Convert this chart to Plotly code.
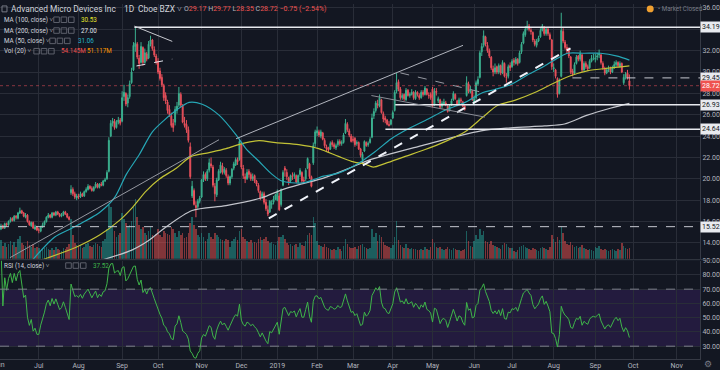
import numpy as np
import pandas as pd
import plotly.graph_objects as go

# ---------------- data (AMD daily, Jun 2018 - Sep 27 2019) ----------------
opens = [
 15.0,15.3,15.6,15.4,15.8,15.7,16.0,16.3,16.1,16.5,16.3,16.8,17.0,16.8,16.4,16.6,16.0,15.6,15.9,15.3,15.5,
 15.2,15.1,15.5,15.7,16.0,16.4,16.6,16.4,16.8,16.6,16.9,16.7,16.5,16.6,16.9,16.7,16.4,18.7,19.0,18.6,18.2,
 18.4,18.3,18.6,18.4,18.8,19.0,19.3,19.1,18.9,19.2,19.5,19.2,19.5,19.4,19.8,20.0,20.7,24.0,25.2,25.4,24.8,25.3,25.5,
 25.4,27.7,28.0,27.1,27.7,29.0,30.2,32.4,32.6,31.3,30.9,32.3,30.9,31.7,31.3,32.6,33.0,32.1,31.5,
 31.0,30.1,29.5,28.7,27.8,27.2,26.5,25.9,25.2,25.3,26.4,26.9,27.9,26.8,25.2,25.1,24.6,23.0,18.4,18.9,17.5,17.4,17.9,
 18.3,19.9,20.4,20.0,20.8,21.4,21.1,19.3,18.5,19.9,20.6,21.2,20.6,20.8,20.2,19.6,20.2,21.0,21.3,21.8,21.8,
 23.2,21.0,20.2,20.0,20.7,20.4,20.0,20.3,19.8,19.4,18.8,18.3,18.6,17.8,17.1,16.9,17.6,17.8,18.1,
 18.0,18.4,17.6,19.4,21.0,20.6,20.1,19.8,20.3,20.3,20.3,19.7,20.4,20.6,19.9,20.0,21.0,21.4,20.2,21.5,23.3,
 24.3,24.4,24.0,24.3,23.6,23.0,22.9,22.8,23.4,23.2,22.9,23.2,23.5,23.3,23.4,24.3,25.1,24.5,24.0,
 23.7,23.8,23.3,23.4,22.8,21.8,22.6,23.4,23.2,23.4,23.9,25.9,26.4,27.0,26.8,27.4,26.1,25.7,25.5,25.1,25.1,
 25.7,26.4,28.2,29.1,28.4,27.6,27.9,27.4,28.3,27.8,27.9,28.1,27.5,28.1,27.8,27.6,28.1,27.9,28.4,27.8,27.9,
 28.4,26.9,28.2,27.3,27.4,26.8,27.0,27.1,26.8,26.4,26.9,27.4,27.9,27.3,27.0,27.4,27.2,26.8,27.8,28.9,28.1,28.2,
 27.1,27.6,28.9,29.5,31.9,32.5,33.3,32.5,32.0,31.4,30.3,30.0,30.5,30.0,30.6,29.9,30.8,29.5,29.6,30.6,
 30.5,31.1,30.8,31.2,30.9,31.9,32.7,33.5,34.1,34.3,33.9,33.7,32.9,32.5,32.9,33.3,33.9,34.2,33.6,34.0,33.5,33.0,
 30.3,30.2,29.4,28.0,29.6,33.8,32.8,32.3,32.1,31.4,30.1,29.9,30.8,31.5,31.2,31.6,30.2,30.8,30.5,30.4,31.0,31.4,
 31.2,31.4,31.6,31.6,30.8,30.3,29.9,30.2,30.3,30.0,30.4,30.7,30.9,30.5,30.8,29.0,29.5,29.9,29.17]
highs = [
 15.5,15.8,15.7,15.9,15.9,16.1,16.4,16.4,16.6,16.6,16.9,17.3,17.1,16.9,16.8,16.7,16.1,16.0,16.0,15.7,15.6,
 15.4,15.6,15.9,16.1,16.5,16.8,16.7,16.9,16.9,17.0,17.0,16.8,16.8,17.0,17.0,16.8,16.5,19.4,19.2,18.8,18.6,
 18.6,18.8,18.7,18.9,19.2,19.5,19.4,19.3,19.3,19.7,19.6,19.6,19.7,19.9,20.1,20.8,23.9,25.5,25.7,25.6,25.5,25.8,25.7,
 28.2,28.8,28.1,27.9,29.2,30.4,32.8,34.14,32.8,31.6,32.8,32.4,32.2,31.9,32.9,33.4,33.1,32.4,31.7,
 31.3,30.4,29.8,28.9,28.1,27.4,26.9,26.2,25.6,26.8,27.2,28.6,28.1,27.0,25.8,25.5,24.9,23.4,19.8,19.1,17.9,18.1,18.4,
 20.0,20.7,20.6,20.9,21.9,22.0,21.3,19.6,20.1,20.9,21.6,21.5,21.1,21.0,20.4,20.3,21.0,21.6,22.0,22.0,23.75,
 23.3,21.3,20.5,20.9,20.9,20.6,20.5,20.4,19.9,19.6,18.9,18.8,18.8,18.1,17.5,18.0,18.0,18.4,18.6,
 19.0,18.7,19.1,20.8,21.2,20.9,20.2,20.4,20.6,20.6,20.4,20.4,21.0,20.7,20.2,21.0,22.0,21.5,20.3,23.4,24.6,
 24.9,24.6,24.6,24.4,23.8,23.2,23.0,23.5,23.6,23.4,23.3,23.7,23.7,23.6,24.3,25.6,25.3,24.7,24.2,
 24.0,23.9,23.6,23.5,22.9,22.5,23.6,23.5,23.5,23.9,26.1,26.6,27.3,27.4,27.9,27.5,26.3,25.9,25.6,25.4,25.6,
 26.4,28.3,29.9,29.3,28.6,28.0,28.0,28.5,28.4,28.1,28.4,28.2,28.3,28.2,28.0,28.3,28.3,28.7,28.5,28.1,28.1,
 28.6,28.5,28.5,27.7,27.5,27.3,27.5,27.3,26.9,27.0,27.5,28.2,28.0,27.4,27.6,27.6,27.3,26.9,29.6,29.1,28.7,28.3,
 27.8,29.2,29.6,32.0,32.7,33.9,33.4,32.8,32.2,31.5,30.6,30.8,30.6,30.8,30.7,31.1,30.9,29.9,30.7,30.9,
 31.2,31.3,31.4,31.3,32.0,32.8,33.8,34.3,34.8,34.5,34.1,33.8,33.1,33.1,33.4,34.1,34.5,34.3,34.2,34.2,33.7,33.1,
 30.8,30.3,29.5,29.4,35.55,34.1,33.0,32.6,32.3,31.5,30.3,30.9,31.6,31.6,32.0,31.7,31.0,31.0,30.7,31.2,31.6,31.7,
 31.7,31.8,32.1,31.7,31.0,30.5,30.4,30.6,30.5,30.6,31.0,31.1,31.0,31.0,30.9,29.8,30.0,30.2,29.77]
lows = [
 14.9,15.2,15.3,15.3,15.5,15.6,15.9,16.0,16.0,16.2,16.2,16.7,16.7,16.4,16.3,15.9,15.6,15.5,15.3,15.2,15.1,
 14.9,15.0,15.4,15.6,15.9,16.3,16.3,16.3,16.5,16.5,16.6,16.4,16.4,16.5,16.6,16.3,16.1,18.5,18.4,18.1,18.0,
 18.1,18.2,18.3,18.3,18.7,18.9,19.0,18.8,18.8,19.1,19.1,19.1,19.3,19.3,19.7,19.9,20.6,23.9,24.9,24.6,24.7,25.1,25.0,
 25.3,27.3,26.8,26.7,27.5,28.9,30.1,31.9,31.2,30.3,30.8,30.6,30.8,31.0,31.2,32.4,32.0,31.4,30.7,
 29.8,29.2,28.6,27.3,27.0,26.1,25.8,24.8,24.4,25.0,26.1,26.7,26.7,25.2,24.8,24.3,23.4,20.0,18.2,17.5,16.4,17.2,17.7,
 18.2,19.7,19.8,19.8,20.6,21.0,19.2,17.9,18.3,19.8,20.5,20.4,20.4,20.1,19.4,19.4,20.0,20.8,21.2,21.3,21.7,
 20.9,20.0,19.6,19.9,20.1,19.8,19.8,19.6,19.3,18.7,18.0,18.1,17.6,17.0,16.5,16.8,17.2,17.6,18.0,
 17.9,17.0,17.4,19.3,20.2,19.9,19.4,19.6,19.9,20.0,19.6,19.6,20.2,19.6,19.6,19.8,20.9,20.0,19.2,21.3,23.0,
 24.0,23.9,23.8,23.6,22.9,22.6,22.5,22.7,23.0,22.8,22.7,23.0,23.1,23.1,23.3,24.2,24.4,23.9,23.4,
 23.4,23.0,23.1,22.7,22.0,21.4,22.5,23.0,23.0,23.3,23.8,25.6,26.2,26.6,26.7,26.1,25.3,25.2,25.0,24.9,25.0,
 25.6,26.3,28.0,28.2,27.4,27.4,27.3,27.3,27.7,27.6,27.8,27.4,27.4,27.7,27.4,27.5,27.7,27.8,27.8,27.5,27.4,
 26.7,26.8,27.8,27.1,26.6,26.6,26.9,26.8,26.2,26.3,26.8,27.3,27.4,26.8,26.9,27.1,26.7,26.4,27.7,28.0,28.0,27.3,
 26.9,27.4,28.7,29.4,31.5,32.3,32.4,31.8,31.3,30.2,29.6,29.8,29.8,29.8,29.7,29.8,29.5,29.0,29.4,30.1,
 30.4,30.6,30.7,30.6,30.8,31.7,32.6,33.3,33.9,33.8,33.5,32.8,32.4,32.3,32.8,33.2,33.8,33.4,33.4,33.4,33.0,30.2,
 30.0,29.4,27.6,27.9,29.5,32.7,32.1,31.7,31.3,29.8,29.6,29.8,30.7,31.0,31.0,30.0,30.1,30.3,30.1,30.3,30.9,31.1,
 30.9,31.1,31.3,30.7,30.2,29.7,29.8,30.0,29.8,29.9,30.3,30.5,30.4,30.4,29.9,28.8,29.3,29.3,28.35]
closes = [
 15.3,15.6,15.4,15.8,15.7,16.0,16.2,16.1,16.5,16.4,16.8,17.0,16.8,16.5,16.6,16.0,15.7,15.9,15.4,15.5,15.2,
 15.2,15.5,15.7,16.0,16.4,16.6,16.4,16.8,16.6,16.9,16.7,16.5,16.6,16.9,16.7,16.4,16.2,19.0,18.6,18.3,18.4,
 18.3,18.6,18.4,18.8,19.0,19.3,19.1,18.9,19.2,19.5,19.2,19.5,19.4,19.8,19.9,20.6,23.6,25.2,25.4,24.8,25.3,25.5,25.2,
 27.6,28.1,27.0,27.6,28.9,30.0,32.5,32.7,31.4,30.8,32.4,30.9,31.8,31.2,32.6,33.0,32.2,31.6,30.9,
 30.0,29.4,28.8,27.6,27.3,26.4,26.0,25.0,24.8,26.5,26.8,28.0,26.9,25.3,25.0,24.6,23.6,20.2,19.3,17.6,17.3,17.9,18.2,
 19.9,20.4,20.0,20.7,21.5,21.2,19.4,18.6,19.9,20.7,21.3,20.6,20.9,20.3,19.6,20.2,20.9,21.4,21.8,21.6,23.5,
 21.1,20.3,20.0,20.6,20.4,20.0,20.2,19.8,19.5,18.9,18.2,18.6,17.8,17.2,16.7,17.9,17.7,18.1,18.5,
 18.8,17.1,19.0,20.6,20.8,20.2,19.7,20.3,20.2,20.4,19.7,20.3,20.8,19.8,19.8,20.8,21.9,20.2,19.3,23.1,24.4,
 24.5,24.1,24.4,23.7,23.1,22.8,22.7,23.3,23.2,23.0,23.1,23.5,23.3,23.4,24.1,25.2,24.6,24.1,23.5,
 23.6,23.2,23.4,22.8,22.2,22.3,23.5,23.1,23.3,23.7,25.7,26.3,27.1,26.9,27.6,26.2,25.6,25.5,25.1,25.0,25.5,
 26.2,28.1,29.0,28.4,27.6,27.8,27.5,28.3,27.8,27.9,28.1,27.6,28.1,27.9,27.6,28.1,27.9,28.5,27.9,27.8,27.6,
 26.8,28.2,28.1,27.5,26.7,27.1,27.2,27.0,26.3,26.8,27.3,28.0,27.5,26.9,27.4,27.3,26.8,26.5,29.0,28.2,28.4,27.4,
 27.5,29.0,29.3,31.8,32.4,33.4,32.6,32.0,31.5,30.4,30.0,30.4,30.0,30.6,29.9,30.9,29.6,29.5,30.5,30.4,
 31.0,30.9,31.2,30.8,31.8,32.6,33.6,34.0,34.3,34.0,33.8,33.0,32.6,32.9,33.2,33.9,34.3,33.6,34.0,33.6,33.1,30.5,
 30.4,29.6,27.9,29.2,33.9,32.9,32.3,32.0,31.5,30.0,29.8,30.7,31.4,31.2,31.7,30.2,30.8,30.5,30.3,31.0,31.3,31.4,
 31.3,31.5,31.7,30.9,30.4,29.9,30.2,30.3,30.0,30.4,30.7,30.9,30.6,30.8,30.0,29.5,29.8,29.47,28.72]
volumes = [  # millions
 70,95,65,80,60,75,90,70,85,60,100,115,80,70,65,90,70,60,75,55,60,
 55,40,50,55,60,50,45,55,45,60,50,45,40,55,50,60,75,200,120,80,70,
 65,70,55,60,75,80,65,60,70,80,75,65,60,90,100,150,270,260,170,140,110,120,130,
 230,200,180,160,170,190,260,300,210,170,150,160,130,120,140,160,120,110,125,
 150,120,110,140,130,125,120,160,150,130,110,140,120,130,105,110,130,180,210,170,150,120,110,
 130,110,90,100,130,110,100,130,120,110,100,95,90,100,95,60,90,100,110,95,140,
 150,110,100,90,85,95,80,85,80,100,110,95,100,110,90,80,85,75,70,
 90,110,110,120,100,80,70,75,65,70,75,60,80,70,65,90,120,130,120,210,180,
 90,70,65,60,75,60,55,50,45,50,45,60,50,40,65,100,75,60,55,
 55,60,50,65,70,75,60,55,50,55,150,110,130,90,120,110,85,70,65,60,55,
 70,110,190,95,70,60,55,75,55,50,55,50,50,45,45,50,45,60,50,45,60,
 100,80,60,55,60,50,45,50,60,50,45,55,50,45,45,40,45,50,140,90,65,60,
 90,120,100,150,120,140,90,85,75,90,70,65,60,55,50,70,80,75,60,55,
 55,40,35,45,60,65,70,60,55,50,45,55,50,45,40,55,60,55,50,45,60,120,
 100,85,110,95,160,130,90,75,70,85,70,60,65,55,60,70,55,50,45,50,45,40,
 60,55,65,50,45,50,45,40,45,50,45,40,50,45,80,65,55,50,54.1]

# moving averages (trading-day index, value)
ma50_idx = [17.8,29.4,38.4,53.1,61.0,67.3,74.1,81.0,87.3,93.6,100.4,107.3,116.2,125.2,130.4,137.3,144.1,149.4,
            159.9,167.2,171.4,179.3,189.9,198.8,207.2,216.2,226.7,235.6,246.2,255.6,261.9,270.3,279.3,288.2,
            295.1,300.3,309.3,317.7,326.6,333.0]
ma50_val = [12.43,14.55,15.37,16.85,18.23,20.44,22.28,24.40,25.50,26.42,27.16,26.98,25.96,24.12,22.83,21.64,20.44,
            19.79,19.61,19.98,20.25,20.53,21.45,22.56,23.75,24.68,25.60,26.42,27.16,28.08,28.36,28.82,29.74,30.57,
            31.30,31.76,31.76,31.76,31.49,31.12]
ma100_idx = [23.1,41.0,53.1,63.6,70.4,77.8,84.7,93.6,101.5,111.0,119.9,128.3,137.3,146.2,158.3,168.8,179.3,186.2,
             193.5,197.7,204.1,214.6,225.1,235.6,246.2,255.6,263.5,272.4,283.0,293.5,301.9,310.8,322.9,333.0]
ma100_val = [12.43,13.62,14.73,16.11,17.31,18.87,19.98,20.99,22.10,22.46,22.83,23.29,23.57,23.38,23.20,22.83,22.10,
             21.64,21.36,21.10,21.45,22.10,22.74,23.48,24.40,25.78,26.88,27.34,28.08,29.00,29.65,30.11,30.38,30.57]
ma200_idx = [51.5,70.4,79.4,87.3,102.0,119.9,138.8,149.4,159.9,171.4,186.2,195.1,221.4,254.6,270.3,288.2,298.7,
             310.8,322.9,333.0]
ma200_val = [12.24,13.35,14.27,15.37,17.03,17.49,18.23,18.97,19.52,20.07,21.08,21.73,23.02,24.49,24.77,24.95,25.13,
             25.96,26.61,27.07]

price_ticks = [14, 16, 18, 20, 22, 24, 26, 28, 30, 32, 34, 36]
rsi_ticks = [30, 40, 50, 60, 70, 80, 90]

# horizontal levels drawn on the chart: start index, price, dashed?
level_start = [71.5, 302.9, 209.3, 204.1, 0.0]
level_price = [34.19, 29.45, 26.93, 24.64, 15.52]
level_dashed = [False, True, False, False, True]

# trend lines: (x0, y0, x1, y1)
trend_x0 = [71.5, 72.6, 5.7, 125.2, 142.5, 196.7, 212.0]
trend_y0 = [34.30, 30.57, 12.61, 23.75, 16.30, 27.80, 29.92]
trend_x1 = [91.5, 91.5, 116.2, 245.1, 301.9, 256.7, 255.6]
trend_y1 = [32.87, 31.21, 23.66, 32.50, 32.22, 25.78, 28.08]
trend_color = ['#c8cad0', '#e0e3eb', '#9598a1', '#b2b5be', '#f0f3fa', '#8a8d96', '#9598a1']
trend_width = [1, 1, 1, 1, 2, 1, 1]
trend_dash = ['solid', 'dash', 'solid', 'solid', 'dash', 'solid', 'dash']

holidays = ['2018-07-04', '2018-09-03', '2018-11-22', '2018-12-05', '2018-12-25', '2019-01-01', '2019-01-21',
            '2019-02-18', '2019-04-19', '2019-05-27', '2019-07-04', '2019-09-02', '2019-11-28']

n = len(closes)
for arr in (opens, highs, lows, volumes):
    assert len(arr) == n, (len(arr), n)

days = pd.bdate_range('2018-06-01', '2019-11-29')
days = days[~days.isin(pd.to_datetime(holidays))]
assert days[n - 1] == pd.Timestamp('2019-09-27'), days[n - 1]

idx = np.arange(n)
tick_idx, tick_txt = [], []
prev = None
for k, d in enumerate(days):
    key = (d.year, d.month)
    if key != prev:
        tick_idx.append(k)
        tick_txt.append('2019' if (d.month == 1) else d.strftime('%b'))
        prev = key

# RSI(14) from closes (Wilder smoothing)
c = pd.Series(closes)
dlt = c.diff()
gain = dlt.clip(lower=0)
loss = -dlt.clip(upper=0)
ag = gain.ewm(alpha=1 / 14, adjust=True).mean()
al = loss.ewm(alpha=1 / 14, adjust=True).mean()
rsi = 100 - 100 / (1 + ag / al)

# ---------------- styling ----------------
BG = '#131722'
GRID = '#292d38'
TXT = '#b2b5be'
UP = '#3bb08f'
DN = '#e8505b'
FONT = 'Roboto'
W, H = 720, 370
PW, PH = 703, 361
XR = [0.49, 370.3]
YP = [12.52, 36.37]
YR = [21.0, 90.0]


def px(x):
    return x / PW


def py(y):
    return 1 - y / PH


up_mask = [cl >= op for op, cl in zip(opens, closes)]
vol_colors = ['rgba(38,166,154,0.5)' if u else 'rgba(239,83,80,0.5)' for u in up_mask]

fig = go.Figure()
fig.add_trace(go.Bar(x=idx, y=volumes, marker=dict(color=vol_colors, line=dict(width=0)), width=0.8,
                     xaxis='x', yaxis='y', hoverinfo='skip'))
for xs, ys, col in ((ma200_idx, ma200_val, '#c3c5cc'), (ma100_idx, ma100_val, '#c2c236'),
                    (ma50_idx, ma50_val, '#26a7b6')):
    fig.add_trace(go.Scatter(x=xs, y=ys, mode='lines', line=dict(color=col, width=1.2, shape='spline',
                                                                  smoothing=0.8),
                             xaxis='x', yaxis='y2', hoverinfo='skip'))
fig.add_trace(go.Candlestick(x=idx, open=opens, high=highs, low=lows, close=closes,
                             increasing=dict(line=dict(color=UP, width=1), fillcolor=UP),
                             decreasing=dict(line=dict(color=DN, width=1), fillcolor=DN),
                             xaxis='x', yaxis='y2', hoverinfo='skip'))
fig.add_trace(go.Scatter(x=idx, y=rsi, mode='lines', line=dict(color='#3fb54a', width=1),
                         xaxis='x2', yaxis='y3', hoverinfo='skip'))

shapes = []
# RSI band and dashed bounds
shapes.append(dict(type='rect', xref='x2 domain', yref='y3', x0=0, x1=1, y0=30, y1=70,
                   fillcolor='rgba(120,50,200,0.17)', line=dict(width=0), layer='below'))
for lv in (30, 70):
    shapes.append(dict(type='line', xref='x2 domain', yref='y3', x0=0, x1=1, y0=lv, y1=lv,
                       line=dict(color='#7c7f8a', width=1, dash='dash')))
# current price line
shapes.append(dict(type='line', xref='x', yref='y2', x0=XR[0], x1=XR[1] + 2, y0=closes[-1], y1=closes[-1],
                   line=dict(color='rgba(232,80,91,0.55)', width=1, dash='dot')))
# level lines
for s, p, dsh in zip(level_start, level_price, level_dashed):
    shapes.append(dict(type='line', xref='x', yref='y2', x0=max(s, XR[0]), x1=XR[1] + 2, y0=p, y1=p,
                       line=dict(color='#c5c8d0' if dsh else '#e8eaef', width=1 if dsh else 1.5,
                                 dash='dash' if dsh else 'solid')))
# trend lines
for x0, y0, x1, y1, col, wd, dsh in zip(trend_x0, trend_y0, trend_x1, trend_y1, trend_color, trend_width,
                                         trend_dash):
    shapes.append(dict(type='line', xref='x', yref='y2', x0=x0, y0=y0, x1=x1, y1=y1,
                       line=dict(color=col, width=wd, dash=dsh)))
# pane separator
shapes.append(dict(type='line', xref='paper', yref='paper', x0=0, x1=W / PW, y0=py(260), y1=py(260),
                   line=dict(color='#363a45', width=1)))


def icon_boxes(x0, y):
    for k in range(3):
        shapes.append(dict(type='rect', xref='paper', yref='paper', x0=px(x0 + k * 7.4), x1=px(x0 + k * 7.4 + 5.6),
                           y0=py(y + 2.8), y1=py(y - 2.8), line=dict(color='#5d606b', width=1)))


icon_boxes(54, 16)
icon_boxes(54, 27)
icon_boxes(50, 37.5)
icon_boxes(34, 48)
icon_boxes(66, 266)
# title icon + market status dot
shapes.append(dict(type='rect', xref='paper', yref='paper', x0=px(2), x1=px(7), y0=py(8), y1=py(2),
                   line=dict(color='#787b86', width=1)))
shapes.append(dict(type='circle', xref='paper', yref='paper', x0=px(649.5), x1=px(656.5), y0=py(8.5), y1=py(1.5),
                   fillcolor='#f0a030', line=dict(width=0)))

ann = []


def label(x, y, text, size=6.3, color='#d1d4dc', anchor='left'):
    ann.append(dict(xref='paper', yref='paper', x=px(x), y=py(y), text=text, showarrow=False,
                    xanchor=anchor, yanchor='middle', font=dict(family=FONT, size=size, color=color)))


label(9, 5, 'Advanced Micro Devices Inc', 8.4)
label(123, 5, '1D', 8.4)
label(137, 5, 'Cboe BZX \u02c5', 8.4)
red = '#ef5350'
ohlc = ('O<span style="color:%s">%.2f</span> H<span style="color:%s">%.2f</span> '
        'L<span style="color:%s">%.2f</span> C<span style="color:%s">%.2f</span> '
        '<span style="color:%s">\u22120.75 (\u22122.54%%)</span>') % (
    red, opens[-1], red, highs[-1], red, lows[-1], red, closes[-1], red)
label(183, 5, ohlc, 7, '#b2b5be')
label(2, 16, 'MA (100, close) \u02c5')
label(79, 16, '30.53', 6.3, '#e3e32c')
label(2, 27, 'MA (200, close) \u02c5')
label(79, 27, '27.00', 6.3, '#e0e3eb')
label(2, 37.5, 'MA (50, close) \u02c5')
label(76, 37.5, '31.06', 6.3, '#26b8c9')
label(2, 48, 'Vol (20) \u02c5')
label(59, 48, '54.145M', 6.3, '#ef5350')
label(85, 48, '51.117M', 6.3, '#ff9800')
label(2, 266, 'RSI (14, close) \u02c5')
label(91, 266, '37.52', 6.3, '#3fb54a')
label(659, 5, '\u2022 Market Closed', 6.3, '#787b86')
label(-1, 367, 'Jun', 7, TXT, 'center')
label(711, 366, '\u2699', 9, '#787b86', 'center')

# right-axis value boxes
for p in level_price:
    ann.append(dict(xref='paper', yref='y2', x=1.0, y=p, text='%.2f' % p, showarrow=False, xanchor='left',
                    yanchor='middle', bgcolor='#e8eaef', borderpad=1,
                    font=dict(family=FONT, size=7, color='#131722')))
ann.append(dict(xref='paper', yref='y2', x=1.0, y=closes[-1], text='%.2f' % closes[-1], showarrow=False,
                xanchor='left', yanchor='middle', bgcolor='#ef5350', borderpad=1,
                font=dict(family=FONT, size=7, color='#ffffff')))

axis_font = dict(family=FONT, size=7, color=TXT)
fig.update_layout(
    width=W, height=H, margin=dict(l=0, r=W - PW, t=0, b=H - PH),
    paper_bgcolor=BG, plot_bgcolor=BG, showlegend=False, hovermode=False,
    shapes=shapes, annotations=ann, bargap=0,
    xaxis=dict(domain=[0, 1], range=XR, tickvals=tick_idx, showticklabels=False, showgrid=True,
               gridcolor=GRID, zeroline=False, anchor='y', rangeslider=dict(visible=False), ticks=''),
    xaxis2=dict(domain=[0, 1], range=XR, matches='x', tickvals=tick_idx, ticktext=tick_txt, showgrid=True,
                gridcolor=GRID, zeroline=False, anchor='y3', ticks='', tickfont=axis_font, showline=True,
                linecolor='#363a45', rangeslider=dict(visible=False)),
    yaxis=dict(domain=[1 - 259 / PH, 1], range=[0, 1270], visible=False, showgrid=False, fixedrange=True),
    yaxis2=dict(overlaying='y', side='right', anchor='x', range=YP, tickvals=price_ticks,
                ticktext=['%.2f' % t for t in price_ticks], showgrid=True, gridcolor=GRID, zeroline=False,
                tickfont=axis_font, ticks='', showline=True, linecolor='#363a45'),
    yaxis3=dict(domain=[0, 1 - 261 / PH], anchor='x2', side='right', range=YR, tickvals=rsi_ticks,
                ticktext=['%.2f' % t for t in rsi_ticks], showgrid=True, gridcolor=GRID, zeroline=False,
                tickfont=axis_font, ticks='', showline=True, linecolor='#363a45'),
)

fig.write_html('out.html', config=dict(displayModeBar=False, staticPlot=True),
               post_script="document.body.style.margin='0';document.body.style.overflow='hidden';"
                           "document.body.style.background='%s';" % BG)
